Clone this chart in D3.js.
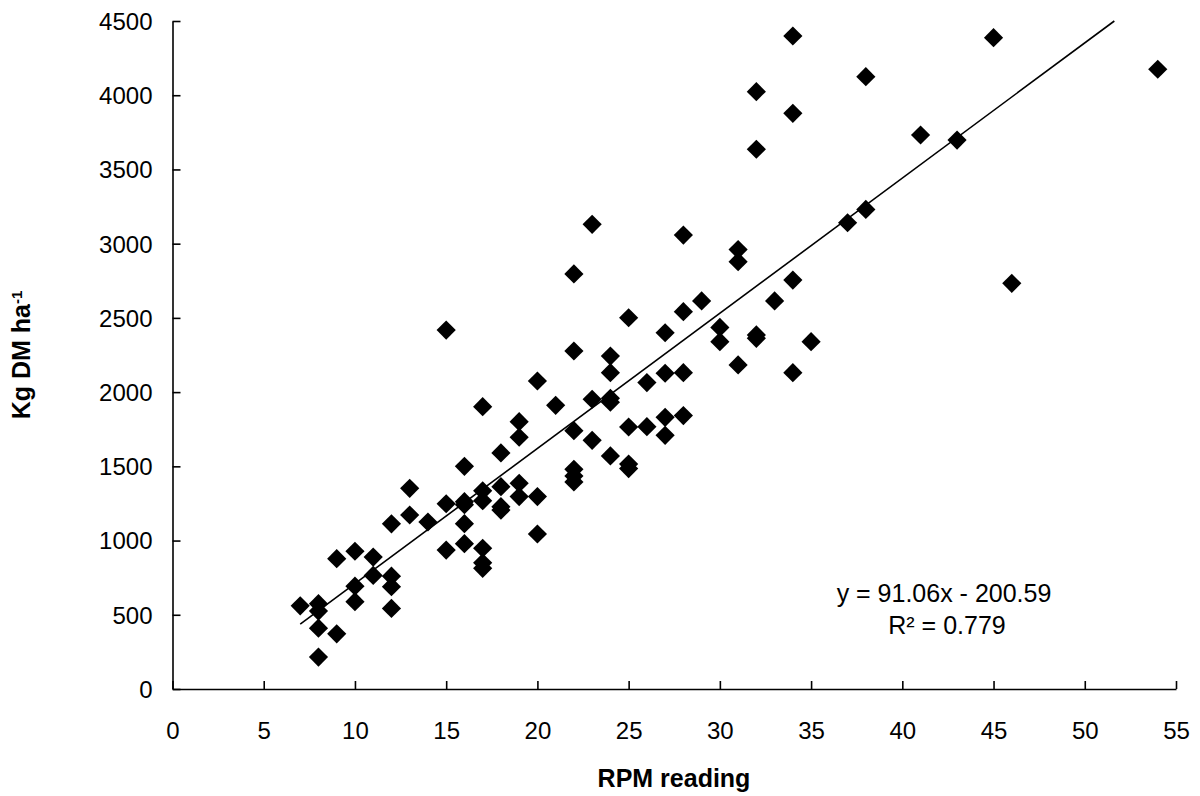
<!DOCTYPE html>
<html>
<head>
<meta charset="utf-8">
<script src="https://cdn.jsdelivr.net/npm/d3@7"></script>
<style>
  html, body { margin: 0; padding: 0; background: #fff; }
  svg { display: block; }
  text { font-family: "Liberation Sans", Arial, sans-serif; fill: #000; }
</style>
</head>
<body>
<svg id="chart" width="1200" height="796"></svg>
<script>
// RPM readings (x) and dry matter yields (y)
const rpm = [
  7,
  8, 8, 8, 8,
  9, 9,
  10, 10, 10,
  11, 11,
  12, 12, 12, 12,
  13, 13,
  14,
  15, 15, 15,
  16, 16, 16, 16, 16,
  17, 17, 17, 17, 17, 17,
  18, 18, 18, 18,
  19, 19, 19, 19,
  20, 20, 20,
  21,
  22, 22, 22, 22, 22, 22,
  23, 23, 23,
  24, 24, 24, 24, 24,
  25, 25, 25, 25,
  26, 26,
  27, 27, 27, 27,
  28, 28, 28, 28,
  29,
  30, 30,
  31, 31, 31,
  32, 32, 32, 32,
  33,
  34, 34, 34, 34,
  35,
  37,
  38, 38,
  41,
  43,
  45,
  46,
  54
];
const kgDM = [
  560,
  575, 525, 410, 215,
  878, 372,
  928, 693, 588,
  889, 765,
  1113, 760, 689, 543,
  1352, 1172,
  1125,
  2418, 1248, 936,
  1500, 1262, 1242, 1114, 979,
  1902, 1335, 1268, 948, 850, 813,
  1590, 1363, 1228, 1205,
  1801, 1696, 1386, 1296,
  2075, 1296, 1044,
  1911,
  2796, 2277, 1740, 1480, 1435, 1395,
  3130, 1952, 1675,
  2243, 2131, 1958, 1932, 1570,
  2501, 1765, 1515, 1485,
  2064, 1767,
  2400, 2127, 1830, 1709,
  3058, 2542, 2131, 1842,
  2614,
  2436, 2340,
  2960, 2879, 2183,
  4024, 3636, 2385, 2362,
  2614,
  4399, 3878, 2755, 2131,
  2340,
  3141,
  4125, 3231,
  3732,
  3698,
  4388,
  2733,
  4175
];
const xTicks = [0, 5, 10, 15, 20, 25, 30, 35, 40, 45, 50, 55];
const yTicks = [0, 500, 1000, 1500, 2000, 2500, 3000, 3500, 4000, 4500];
const slope = 91.06;
const intercept = -200.59;
const equationText = "y = 91.06x - 200.59";
const r2Text = "R\u00B2 = 0.779";
const xTitle = "RPM reading";

const svg = d3.select("#chart");
const x = d3.scaleLinear().domain([0, 55]).range([172.5, 1176]);
const y = d3.scaleLinear().domain([0, 4500]).range([689, 21]);

// Axes (inside ticks)
const xAxis = d3.axisBottom(x).tickValues(xTicks).tickSizeInner(-8).tickSizeOuter(0).tickPadding(33).tickFormat(d3.format("d"));
const yAxis = d3.axisLeft(y).tickValues(yTicks).tickSizeInner(-8).tickSizeOuter(0).tickPadding(20).tickFormat(d3.format("d"));

const gx = svg.append("g").attr("transform", `translate(0,${y(0)})`).call(xAxis);
const gy = svg.append("g").attr("transform", `translate(${x(0)},0)`).call(yAxis);
[gx, gy].forEach(g => {
  g.selectAll("path.domain").attr("stroke", "#000").attr("stroke-width", 1.6);
  g.selectAll(".tick line").attr("stroke", "#000").attr("stroke-width", 1.6);
  g.selectAll(".tick text").attr("font-size", 24).attr("font-family", "Liberation Sans, Arial, sans-serif").attr("fill", "#000");
});
gy.selectAll(".tick text").attr("dy", "0.35em");

// Points (diamonds)
const pts = rpm.map((v, i) => ({ x: v, y: kgDM[i] }));
const r = 9.6;
svg.append("g").selectAll("path.pt").data(pts).join("path")
  .attr("class", "pt")
  .attr("d", d => {
    const cx = x(d.x), cy = y(d.y);
    return `M${cx},${cy - r}L${cx + r},${cy}L${cx},${cy + r}L${cx - r},${cy}Z`;
  })
  .attr("fill", "#000");

// Regression line from min x to where it reaches the top of the axis
const xStart = d3.min(rpm);
const xEnd = (y.domain()[1] - intercept) / slope;
svg.append("line")
  .attr("x1", x(xStart)).attr("y1", y(slope * xStart + intercept))
  .attr("x2", x(xEnd)).attr("y2", y(slope * xEnd + intercept))
  .attr("stroke", "#000").attr("stroke-width", 1.6);

// Equation
svg.append("text").attr("x", 944).attr("y", 601.5).attr("text-anchor", "middle")
  .attr("font-size", 25).text(equationText);
svg.append("text").attr("x", 947).attr("y", 633.5).attr("text-anchor", "middle")
  .attr("font-size", 25).text(r2Text);

// Axis titles
svg.append("text").attr("x", 674).attr("y", 787).attr("text-anchor", "middle")
  .attr("font-size", 25).attr("font-weight", "bold").text(xTitle);

const yt = svg.append("text")
  .attr("transform", `translate(30,${(y(0) + y(4500)) / 2}) rotate(-90)`)
  .attr("text-anchor", "middle").attr("font-size", 25).attr("font-weight", "bold");
yt.append("tspan").text("Kg DM ha");
yt.append("tspan").attr("dy", "-0.55em").attr("font-size", 15).text("-1");
</script>
</body>
</html>
